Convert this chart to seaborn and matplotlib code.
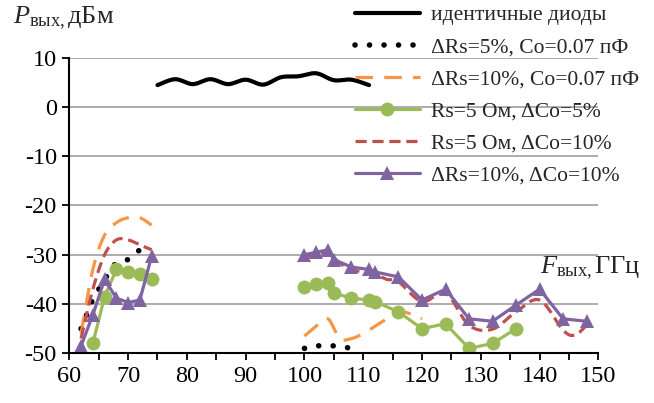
import numpy as np
import matplotlib
matplotlib.use("Agg")
import matplotlib.pyplot as plt
import seaborn as sns

# ---- data: output power P (dBm) vs output frequency F (GHz) ----
f_ident = [75, 78, 81, 84, 87, 90, 93, 96, 99, 102, 105, 108, 111]
p_ident = [4.4, 5.6, 4.6, 5.6, 4.6, 5.5, 4.5, 6.0, 6.2, 6.8, 5.4, 5.5, 4.4]

f_rs5_lo = [62, 64, 66, 68, 70, 72]
p_rs5_lo = [-45, -39, -35, -31.5, -31, -29]
f_rs5_hi = [100, 102, 104, 106, 108]
p_rs5_hi = [-49, -48.5, -48.4, -48.6, -49]

f_rs10_lo = [62, 64, 66, 68, 70, 72, 74]
p_rs10_lo = [-46, -33, -26, -23.5, -22.5, -22.5, -24]
f_rs10_hi = [100, 102, 104, 106, 108, 110, 112, 114, 116, 118, 120]
p_rs10_hi = [-46.5, -44.5, -43, -47, -47, -46, -44.5, -43, -41.5, -42, -43]

f_co5_lo = [64, 66, 68, 70, 72, 74]
p_co5_lo = [-48, -38.5, -33, -33.5, -34, -35]
f_co5_hi = [100, 102, 104, 105, 108, 111, 112, 116, 120, 124, 128, 132, 136]
p_co5_hi = [-36.5, -36, -35.8, -37.8, -38.8, -39.2, -39.5, -41.6, -45, -44, -49, -48, -45]

f_co10_lo = [62, 64, 66, 68, 70, 72, 74]
p_co10_lo = [-47, -37, -30, -27, -27, -28, -29]
f_co10_hi = [100, 102, 104, 106, 108, 110, 112, 114, 116, 120, 124, 128, 132, 136, 140, 144, 146, 148]
p_co10_hi = [-30.5, -30, -29.5, -31.7, -33, -33.5, -34, -35, -35.5, -39.5, -37.8, -44.3, -45.1, -41.6, -39.2, -45.3, -46.3, -44.3]

f_both_lo = [62, 64, 66, 68, 70, 72, 74]
p_both_lo = [-48.5, -42.2, -35, -38.8, -39.7, -39.2, -30.3]
f_both_hi = [100, 102, 104, 105, 108, 111, 112, 116, 120, 124, 128, 132, 136, 140, 144, 148]
p_both_hi = [-30, -29.5, -29, -31, -32.5, -33, -33.5, -34.5, -39.2, -37, -43, -43.5, -40.2, -37, -43, -43.5]

labels = ["идентичные диоды", "ΔRs=5%, Co=0.07 пФ", "ΔRs=10%, Co=0.07 пФ",
          "Rs=5 Ом, ΔCo=5%", "Rs=5 Ом, ΔCo=10%", "ΔRs=10%, ΔCo=10%"]
x_ticks = [60, 70, 80, 90, 100, 110, 120, 130, 140, 150]
y_ticks = [10, 0, -10, -20, -30, -40, -50]


def smooth(xs, ys, n=24):
    """Catmull-Rom spline through the points (smoothed chart line)."""
    pts = np.column_stack([xs, ys]).astype(float)
    p = np.vstack([pts[0], pts, pts[-1]])
    out = []
    t = np.linspace(0, 1, n, endpoint=False)[:, None]
    for i in range(1, len(p) - 2):
        p0, p1, p2, p3 = p[i - 1], p[i], p[i + 1], p[i + 2]
        seg = 0.5 * (2 * p1 + (-p0 + p2) * t
                     + (2 * p0 - 5 * p1 + 4 * p2 - p3) * t ** 2
                     + (-p0 + 3 * p1 - 3 * p2 + p3) * t ** 3)
        out.append(seg)
    out.append(p[-2][None])
    s = np.vstack(out)
    return s[:, 0], s[:, 1]


sns.set_theme(style="white")
plt.rcParams["font.family"] = ["Liberation Serif", "DejaVu Serif"]
plt.rcParams["mathtext.fontset"] = "custom"
plt.rcParams["mathtext.rm"] = "Liberation Serif"
plt.rcParams["mathtext.it"] = "Liberation Serif:italic"
plt.rcParams["axes.unicode_minus"] = False

fig = plt.figure(figsize=(6.54, 4.03), dpi=100)
ax = fig.add_axes([0.106, 0.1233, 0.8089, 0.734])

BLACK = "#000000"
ORANGE = "#F79646"
GREEN = "#9BBB59"
RED = "#C0504D"
PURPLE = "#8064A2"


def draw(xs, ys, label, smooth_it=False, **kw):
    if smooth_it:
        xs, ys = smooth(xs, ys)
    sns.lineplot(x=list(xs), y=list(ys), ax=ax, sort=False, estimator=None,
                 label=label, **kw)


# identical diodes
draw(f_ident, p_ident, labels[0], smooth_it=True, color=BLACK, lw=3.0,
     solid_capstyle="round")
# dRs=5%
dot_kw = dict(color=BLACK, lw=4.0, linestyle=(0, (0.01, 2.6)),
              dash_capstyle="round")
draw(f_rs5_lo, p_rs5_lo, labels[1], **dot_kw)
draw(f_rs5_hi, p_rs5_hi, "_nolegend_", **dot_kw)
# dRs=10%
or_kw = dict(color=ORANGE, lw=2.3, linestyle=(0, (5.5, 3.5)))
draw(f_rs10_lo, p_rs10_lo, labels[2], smooth_it=True, **or_kw)
draw(f_rs10_hi, p_rs10_hi, "_nolegend_", smooth_it=True, **or_kw)
# dCo=5%
gr_kw = dict(color=GREEN, lw=2.3, marker="o", markersize=10,
             markeredgewidth=0)
draw(f_co5_lo, p_co5_lo, labels[3], **gr_kw)
draw(f_co5_hi, p_co5_hi, "_nolegend_", **gr_kw)
# dCo=10%
rd_kw = dict(color=RED, lw=2.3, linestyle=(0, (3.5, 1.8)))
draw(f_co10_lo, p_co10_lo, labels[4], smooth_it=True, **rd_kw)
draw(f_co10_hi, p_co10_hi, "_nolegend_", smooth_it=True, **rd_kw)
# dRs=10%, dCo=10%
pu_kw = dict(color=PURPLE, lw=2.3, marker="^", markersize=10,
             markeredgewidth=0)
draw(f_both_lo, p_both_lo, labels[5], **pu_kw)
draw(f_both_hi, p_both_hi, "_nolegend_", **pu_kw)

ax.set_xlim(60, 150)
ax.set_ylim(-50, 10)
ax.set_xticks(x_ticks)
ax.set_xticks(np.arange(65, 150, 10), minor=True)
ax.set_yticks(y_ticks)
ax.set_xticklabels([str(v) for v in x_ticks])
ax.set_yticklabels([str(v) for v in y_ticks])
ax.set_xlabel("")
ax.set_ylabel("")

ax.grid(axis="y", color="#A6A6A6", lw=1.3)
ax.grid(axis="x", visible=False)
ax.set_axisbelow(True)
for s in ("top", "right"):
    ax.spines[s].set_visible(False)
for s in ("left", "bottom"):
    ax.spines[s].set_color("black")
    ax.spines[s].set_linewidth(1.5)
ax.tick_params(axis="both", which="both", direction="out", length=5,
               width=1.3, color="black", labelsize=17.5, labelcolor="black")
ax.tick_params(axis="x", which="both", bottom=True, pad=4)
ax.tick_params(axis="y", which="both", left=True, pad=4)

leg = ax.legend(loc="upper left", bbox_to_anchor=(355 / 654, 1 - 5 / 403),
                bbox_transform=fig.transFigure, frameon=False, fontsize=15.5,
                handlelength=3.0, handletextpad=0.55, labelspacing=0.56,
                borderaxespad=0, borderpad=0)

fig.text(13 / 654, 1 - 18 / 403, r"$P_{\mathrm{вых,}}$дБм", fontsize=19,
         ha="left", va="center")
fig.text(641 / 654, 1 - 268 / 403, r"$F_{\mathrm{вых,}}$ГГц", fontsize=19,
         ha="right", va="center")

fig.savefig("out.png", dpi=100)
